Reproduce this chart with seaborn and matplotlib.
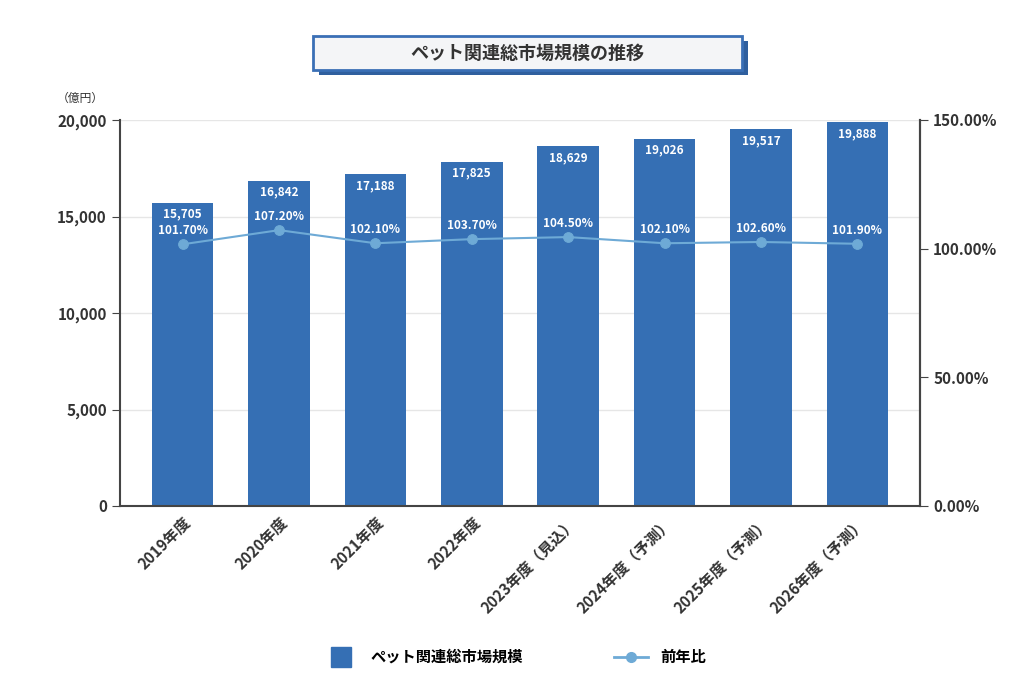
import matplotlib
matplotlib.use("Agg")
import matplotlib.pyplot as plt
from matplotlib.patches import Rectangle
from matplotlib.lines import Line2D
from matplotlib.ticker import FuncFormatter
import seaborn as sns
import pandas as pd

plt.rcParams["font.family"] = "Noto Sans CJK JP"

categories = ["2019年度", "2020年度", "2021年度", "2022年度", "2023年度（見込）",
              "2024年度（予測）", "2025年度（予測）", "2026年度（予測）"]
market = [15705, 16842, 17188, 17825, 18629, 19026, 19517, 19888]
yoy = [101.7, 107.2, 102.1, 103.7, 104.5, 102.1, 102.6, 101.9]

BAR = "#356fb4"
LINE = "#6eaad6"
DARK = "#333333"

df = pd.DataFrame({"cat": categories, "market": market, "yoy": yoy})

fig = plt.figure(figsize=(10.24, 6.9), dpi=100)
ax = fig.add_axes([120/1024, 1-506/690, 800/1024, 386/690])
sns.barplot(data=df, x="cat", y="market", color=BAR, width=0.64, ax=ax, zorder=2, saturation=1)
ax.set_ylim(0, 20000)
ax.set_yticks(range(0, 20001, 5000))
ax.yaxis.set_major_formatter(FuncFormatter(lambda v, p: f"{int(v):,}"))
ax.grid(axis="y", color="#e6e6e6", lw=1, zorder=0)
ax.set_xlabel(""); ax.set_ylabel("")
ax.spines["top"].set_visible(False)
for s in ["left", "right", "bottom"]:
    ax.spines[s].set_color("#444444"); ax.spines[s].set_linewidth(1.5)
ax.tick_params(axis="y", length=6, color="#444444", labelsize=11, labelcolor=DARK)
ax.tick_params(axis="x", length=0, labelsize=11, labelcolor=DARK, pad=6)
for lab in ax.get_yticklabels():
    lab.set_fontweight("bold")
ax.set_xticks(range(len(categories)))
ax.set_xticklabels(categories, rotation=45, ha="right", rotation_mode="anchor", fontweight="bold")
for i, v in enumerate(market):
    ax.text(i, v - 250, f"{v:,}", ha="center", va="top", color="white", fontsize=8.5, fontweight="bold", zorder=5)
ax.text(-0.02, 1.04, "（億円）", transform=ax.transAxes, ha="right", va="bottom", fontsize=8.5, color=DARK)

ax2 = ax.twinx()
ax2.set_ylim(0, 150)
sns.lineplot(x=list(range(len(categories))), y=yoy, ax=ax2, color=LINE, lw=1.5, marker="o",
             markersize=7, markeredgecolor=LINE, zorder=4)
ax2.set_yticks([0, 50, 100, 150])
ax2.yaxis.set_major_formatter(FuncFormatter(lambda v, p: f"{v:.2f}%"))
ax2.tick_params(axis="y", length=6, color="#444444", labelsize=11, labelcolor=DARK)
for lab in ax2.get_yticklabels():
    lab.set_fontweight("bold")
for s in ["top", "left", "bottom"]:
    ax2.spines[s].set_visible(False)
ax2.spines["right"].set_color("#444444"); ax2.spines["right"].set_linewidth(1.5)
for i, v in enumerate(yoy):
    ax2.text(i, v + 2.8, f"{v:.2f}%", ha="center", va="bottom", color="white", fontsize=8.5, fontweight="bold", zorder=5)
ax2.set_xlim(-0.65, len(categories) - 0.35)
ax.set_xlim(-0.65, len(categories) - 0.35)

W, H = 1024, 690
fig.patches.append(Rectangle((319/W, 1-75/H), 429/W, 34/H, transform=fig.transFigure,
                             facecolor="#2f5f9e", edgecolor="none", zorder=1))
fig.patches.append(Rectangle((313/W, 1-70/H), 429/W, 34/H, transform=fig.transFigure,
                             facecolor="#f4f5f7", edgecolor="#3a6fb5", lw=2, zorder=2))
fig.text(527/W, 1-53/H, "ペット関連総市場規模の推移", ha="center", va="center",
         fontsize=13, fontweight="bold", color=DARK, zorder=3)

handles = [Line2D([], [], marker="s", ls="none", color=BAR, markersize=14),
           Line2D([], [], marker="o", color=LINE, lw=2, markersize=7)]
fig.legend(handles, ["ペット関連総市場規模", "前年比"], loc="center", bbox_to_anchor=(515/W, 1-657/H),
           ncol=2, frameon=False, columnspacing=6, handlelength=2.2, prop={"weight": "bold", "size": 11})

fig.savefig("out.png", dpi=100)
